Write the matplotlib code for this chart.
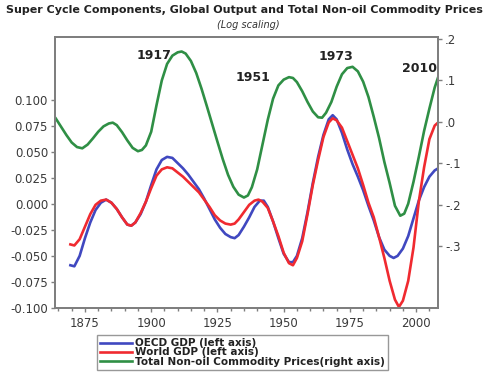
import matplotlib.pyplot as plt
from matplotlib.ticker import MultipleLocator, FixedLocator, FuncFormatter

plt.rcParams['font.family'] = ['DejaVu Sans']

# OECD GDP super cycle component (left axis)
oecd_years = [1869.5, 1871, 1873, 1875, 1877, 1879, 1881, 1883, 1885, 1887, 1889, 1891,
              1892.5, 1894, 1896, 1898, 1900, 1902, 1904, 1906, 1908, 1910, 1912, 1914,
              1916, 1918, 1920, 1922, 1924, 1926, 1928, 1930, 1931.5, 1933, 1935, 1937,
              1939, 1941, 1942.5, 1944, 1946, 1948, 1950, 1952, 1953.5, 1955, 1957, 1959,
              1961, 1963, 1965, 1967, 1968.5, 1970, 1972, 1974, 1976, 1978, 1980, 1982,
              1984, 1986, 1988, 1990, 1991.5, 1993, 1995, 1997, 1999, 2001, 2003, 2005,
              2007, 2008.3]
oecd_gdp = [-0.059, -0.060, -0.050, -0.033, -0.018, -0.006, 0.001, 0.004, 0.001, -0.005,
            -0.013, -0.020, -0.021, -0.018, -0.010, 0.002, 0.018, 0.033, 0.042, 0.045,
            0.044, 0.039, 0.034, 0.028, 0.021, 0.014, 0.005, -0.005, -0.015, -0.023,
            -0.029, -0.032, -0.033, -0.030, -0.022, -0.013, -0.003, 0.003, 0.003, -0.003,
            -0.017, -0.033, -0.048, -0.056, -0.056, -0.050, -0.033, -0.008, 0.020, 0.045,
            0.066, 0.081, 0.085, 0.081, 0.068, 0.052, 0.038, 0.026, 0.013, -0.002,
            -0.016, -0.032, -0.044, -0.050, -0.052, -0.050, -0.043, -0.031, -0.014, 0.003,
            0.016, 0.026, 0.032, 0.034]

# World GDP super cycle component (left axis)
world_years = [1869.5, 1871, 1873, 1875, 1877, 1879, 1881, 1883, 1885, 1887, 1889, 1891,
               1892.5, 1894, 1896, 1898, 1900, 1902, 1904, 1906, 1908, 1910, 1912, 1914,
               1916, 1918, 1920, 1922, 1924, 1926, 1928, 1930, 1931.5, 1933, 1935, 1937,
               1939, 1940.5, 1942, 1944, 1946, 1948, 1950, 1952, 1953.5, 1955, 1957, 1959,
               1961, 1963, 1965, 1967, 1968.5, 1970, 1972, 1974, 1976, 1978, 1980, 1982,
               1984, 1986, 1988, 1990, 1992, 1993.5, 1995, 1997, 1999, 2001, 2003, 2005,
               2007, 2008.3]
world_gdp = [-0.039, -0.040, -0.034, -0.022, -0.010, -0.001, 0.003, 0.004, 0.001, -0.005,
             -0.013, -0.020, -0.021, -0.018, -0.009, 0.002, 0.015, 0.027, 0.033, 0.035,
             0.034, 0.030, 0.026, 0.021, 0.016, 0.011, 0.004, -0.003, -0.011, -0.016,
             -0.019, -0.020, -0.019, -0.015, -0.008, -0.001, 0.003, 0.004, 0.002, -0.004,
             -0.017, -0.031, -0.047, -0.057, -0.059, -0.052, -0.036, -0.010, 0.018, 0.042,
             0.064, 0.078, 0.082, 0.080, 0.073, 0.060, 0.047, 0.034, 0.018, 0.001,
             -0.013, -0.032, -0.052, -0.074, -0.092, -0.099, -0.093, -0.074, -0.042, 0.002,
             0.035, 0.062, 0.075, 0.078]

# Total non-oil commodity prices super cycle component (right axis)
comm_years = [1864, 1866, 1868, 1870, 1872, 1874, 1876, 1878, 1880, 1882, 1884, 1885.5,
              1887, 1889, 1891, 1893, 1895, 1896.5, 1898, 1900, 1902, 1904, 1906, 1908,
              1910, 1911.5, 1913, 1915, 1917, 1919, 1921, 1923, 1925, 1927, 1929, 1931,
              1933, 1935, 1936.5, 1938, 1940, 1942, 1944, 1946, 1948, 1950, 1952, 1953.5,
              1955, 1957, 1959, 1961, 1963, 1964.5, 1966, 1968, 1970, 1972, 1974, 1976,
              1978, 1980, 1982, 1984, 1986, 1988, 1990, 1992, 1994, 1995.5, 1997, 1999,
              2001, 2003, 2005, 2007, 2008.3]
comm_prices = [0.008, -0.012, -0.032, -0.050, -0.061, -0.064, -0.055, -0.040, -0.024,
               -0.011, -0.004, -0.002, -0.008, -0.025, -0.045, -0.063, -0.071, -0.068,
               -0.057, -0.024, 0.040, 0.100, 0.140, 0.160, 0.168, 0.170, 0.165, 0.147,
               0.118, 0.080, 0.038, -0.005, -0.048, -0.090, -0.128, -0.157, -0.176, -0.183,
               -0.178, -0.158, -0.115, -0.055, 0.005, 0.056, 0.088, 0.102, 0.108, 0.106,
               0.096, 0.074, 0.048, 0.025, 0.011, 0.010, 0.022, 0.048, 0.085, 0.115,
               0.130, 0.133, 0.122, 0.097, 0.060, 0.012, -0.039, -0.097, -0.148, -0.203,
               -0.227, -0.222, -0.198, -0.145, -0.085, -0.022, 0.032, 0.083, 0.108]

peak_labels = ['1917', '1951', '1973', '2010']
peak_label_x = [1901.2, 1938.6, 1969.9, 2001.1]
peak_label_y = [0.161, 0.108, 0.157, 0.128]

green = '#2f8f45'
blue = '#4048c0'
red = '#f02a30'
spine_gray = '#7f7f7f'

fig = plt.figure(figsize=(4.89, 3.74), dpi=100)
ax = fig.add_axes([0.1125, 0.1765, 0.7835, 0.7245])
ax2 = ax.twinx()

l1, = ax.plot(oecd_years, oecd_gdp, color=blue, lw=1.9, solid_joinstyle='round')
l2, = ax.plot(world_years, world_gdp, color=red, lw=1.9, solid_joinstyle='round')
l3, = ax2.plot(comm_years, comm_prices, color=green, lw=1.9, solid_joinstyle='round')

ax.set_xlim(1863.7, 2008.3)
ax.set_ylim(-0.100, 0.160)
ax2.set_ylim(-0.45, 0.205)

ax.xaxis.set_major_locator(MultipleLocator(25))
ax.xaxis.set_minor_locator(MultipleLocator(5))
ax.set_yticks([-0.1, -0.075, -0.05, -0.025, 0.0, 0.025, 0.05, 0.075, 0.1])
ax.yaxis.set_major_formatter(FuncFormatter(lambda v, p: f'{v:.3f}'.replace('-0.000', '0.000')))

ax2.yaxis.set_major_locator(FixedLocator([-0.3, -0.2, -0.1, 0.0, 0.1, 0.2]))


def right_fmt(v, p):
    s = f'{v:.1f}'.replace('0.', '.')
    return '.0' if s in ('.0', '-.0') else s


ax2.yaxis.set_major_formatter(FuncFormatter(right_fmt))

for a in (ax, ax2):
    for sp in a.spines.values():
        sp.set_color(spine_gray)
        sp.set_linewidth(1.4)
    a.tick_params(which='both', colors=spine_gray, labelcolor='#3a3a3a', labelsize=8.5)
ax.tick_params(axis='x', which='major', length=3, width=1)
ax.tick_params(axis='x', which='minor', length=2, width=1)
ax.tick_params(axis='y', length=3, width=1, pad=2)
ax2.tick_params(axis='y', length=3, width=1, pad=2)

for txt, xx, yy in zip(peak_labels, peak_label_x, peak_label_y):
    ax2.text(xx, yy, txt, ha='center', va='center', fontsize=9,
             fontweight='bold', color='#222222')

fig.text(0.5, 0.973, 'Super Cycle Components, Global Output and Total Non-oil Commodity Prices',
         ha='center', va='center', fontsize=8.0, fontweight='bold', color='#222222')
fig.text(0.507, 0.933, '(Log scaling)', ha='center', va='center', fontsize=7,
         style='italic', color='#333333')

leg = fig.legend([l1, l2, l3],
                 ['OECD GDP (left axis)', 'World GDP (left axis)',
                  'Total Non-oil Commodity Prices(right axis)'],
                 loc='upper left', bbox_to_anchor=(0.198, 0.104), borderaxespad=0,
                 prop={'weight': 'bold', 'size': 7.5}, handlelength=3.1,
                 labelspacing=-0.08, handletextpad=0.3, borderpad=0.3,
                 frameon=True, fancybox=False, edgecolor=spine_gray)
leg.get_frame().set_linewidth(1.0)
for t in leg.get_texts():
    t.set_color('#222222')

fig.savefig('out.png', dpi=100)
